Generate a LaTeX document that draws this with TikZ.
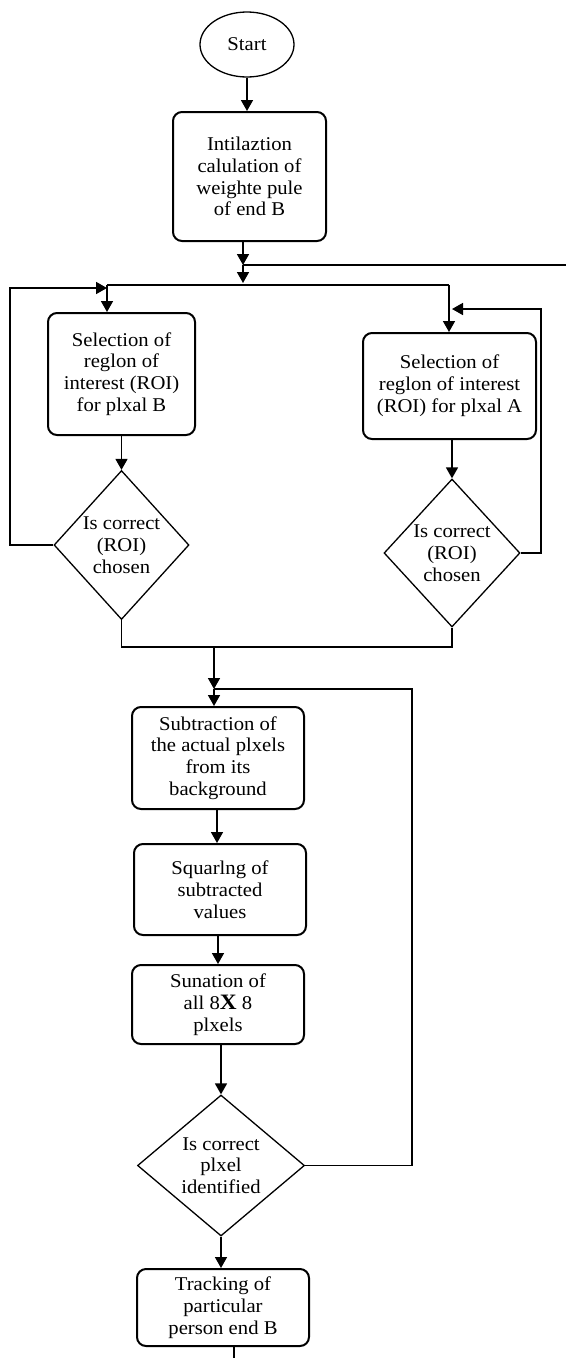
\documentclass[tikz,border=0pt]{standalone}
\usepackage{fontspec}
\setmainfont{Liberation Serif}[FakeStretch=1.06]
\usetikzlibrary{shapes.geometric,arrows.meta}
\begin{document}
\begin{tikzpicture}[x=1pt,y=-1pt,
  txtfont/.style={font=\fontsize{19.5}{21.8}\selectfont},
  box/.style={draw,rounded corners=9pt,line width=2pt,inner sep=0pt,align=center,txtfont},
  term/.style={draw,ellipse,line width=1.3pt,inner sep=0pt,txtfont},
  dec/.style={draw,diamond,line width=1.3pt,inner sep=0pt},
  dectext/.style={align=center,inner sep=0pt,txtfont},
  conn/.style={line width=1.6pt},
  arr/.style={conn,-{Triangle[length=11pt,width=12pt]}}]
\useasboundingbox (0,0) rectangle (566,1358);

% nodes
\node[term,minimum width=94pt,minimum height=65pt] (start) at (247,44.5) {Start};
\node[box,minimum width=153pt,minimum height=129pt] (init) at (249.5,176.5)
  {Intilaztion\\calulation of\\weighte pule\\of end B};
\node[box,minimum width=147pt,minimum height=122pt] (selB) at (121.5,374)
  {Selection of\\reglon of\\interest (ROI)\\for plxal B};
\node[box,minimum width=173pt,minimum height=106pt] (selA) at (449.5,386)
  {Selection of\\reglon of interest\\(ROI) for plxal A};
\node[dec,minimum width=135pt,minimum height=149pt] (decB) at (121.5,545) {};
\node[dectext] (decBt) at (121.5,545) {Is correct\\(ROI)\\chosen};
\node[dec,minimum width=136pt,minimum height=148pt] (decA) at (452,553) {};
\node[dectext] (decAt) at (452,553) {Is correct\\(ROI)\\chosen};
\node[box,minimum width=172pt,minimum height=102pt] (sub) at (218,758)
  {Subtraction of\\the actual plxels\\from its\\background};
\node[box,minimum width=172pt,minimum height=91pt] (sq) at (220,889.5)
  {Squarlng of\\subtracted\\values};
\node[box,minimum width=172pt,minimum height=79pt] (sum) at (218,1004.5)
  {Sunation of\\all 8{\fontsize{22}{22}\selectfont\bfseries X} 8\\plxels};
\node[dec,minimum width=167pt,minimum height=141pt] (decC) at (221,1165.5) {};
\node[dectext] (decCt) at (221,1165.5) {Is correct\\plxel\\identified};
\node[box,minimum width=172pt,minimum height=77pt] (track) at (223,1307.5)
  {Tracking of\\particular\\person end B};

% junction coordinates
\coordinate (j1) at (243,265);
\coordinate (edge) at (566,265);
\coordinate (j2) at (243,283);
\coordinate (lB) at (107,285);
\coordinate (rA) at (449,285);
\coordinate (loopL) at (10,288);
\coordinate (loopR) at (541,309);
\coordinate (m) at (214,647);
\coordinate (j3) at (214,689);
\coordinate (loopC) at (412,689);
\coordinate (endp) at (234,1358);

% connectors
\draw[arr] (start.south) -- (start.south |- init.north);
\draw[arr] (init.south -| j1) -- (j1);
\draw[conn] (j1) -- (edge);
\draw[arr] (j1) -- (j2);
\draw[conn] (lB) -- (rA);
\draw[arr] (lB) -- (lB |- selB.north);
\draw[arr] (rA) -- (rA |- selA.north);
\draw[arr] (selB.south) -- (decB.north);
\draw[arr] (selA.south -| decA.north) -- (decA.north);
\draw[arr] (decB.west) -| (loopL) -- (lB |- loopL);
\draw[arr] (decA.east) -| (loopR) -- (decA.north |- loopR);
\draw[conn] (decB.south) |- (m) -| (decA.south);
\draw[arr] (m) -- (j3);
\draw[arr] (j3) -- (j3 |- sub.north);
\draw[conn] (decC.east) -| (loopC) -- (j3);
\draw[arr] (sub.south -| 217,0) -- (217,0 |- sq.north);
\draw[arr] (sq.south -| 218,0) -- (218,0 |- sum.north);
\draw[arr] (sum.south -| decC.north) -- (decC.north);
\draw[arr] (decC.south) -- (decC.south |- track.north);
\draw[conn] (track.south -| endp) -- (endp);
\end{tikzpicture}
\end{document}
